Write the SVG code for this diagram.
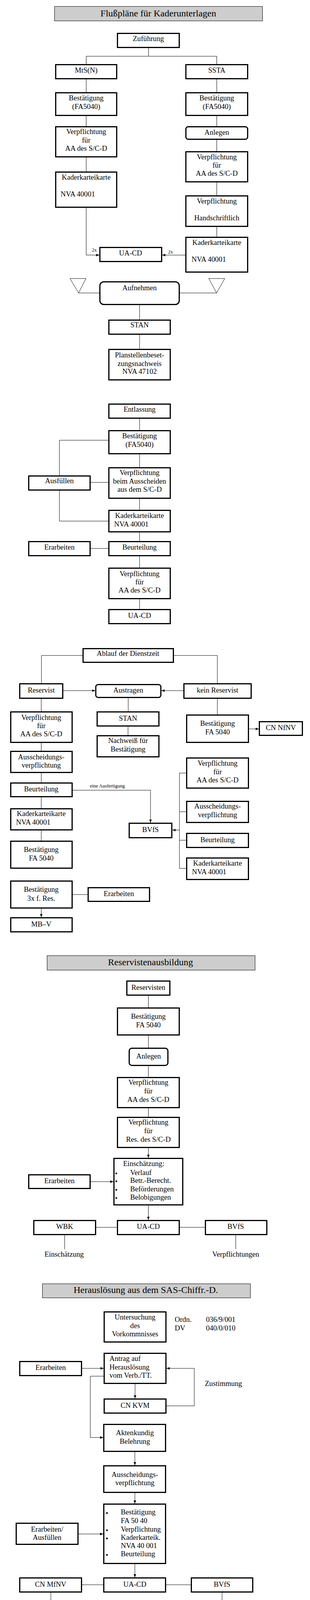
<svg xmlns="http://www.w3.org/2000/svg" width="793" height="5140" viewBox="0 0 793 5140">
<style>
.b{fill:#fff;stroke:#000;stroke-width:3}
.t{fill:#cdcdcd;stroke:#000;stroke-width:1}
.c{fill:none;stroke:#000;stroke-width:1}
.a{fill:none;stroke:#000;stroke-width:1;marker-end:url(#ah)}
text{font-family:"Liberation Serif","Times New Roman",serif;font-size:18.6px;fill:#000}
.m{text-anchor:middle}
.h{font-size:24px}
.s{font-size:12.5px}
.sup{font-size:11px}
.d{fill:#000}
</style>
<defs>
<marker id="ah" viewBox="0 0 10 8" refX="10" refY="4" markerWidth="8" markerHeight="7" markerUnits="userSpaceOnUse" orient="auto"><path d="M0,0L10,4L0,8z" fill="#000"/></marker>
</defs>
<rect width="793" height="5140" fill="#fff"/>

<g id="connectors">
<path class="c" d="M380,123V144M220.5,144H554.5M220.5,144V164M554.5,144V164M220.5,203V236M220.5,297V323M220.5,403V439M554.5,203V236M554.5,297V323M554.5,358V387M554.5,467V500M554.5,581V606"/>
<path class="a" d="M220.5,532V653H254"/>
<path class="a" d="M474,653H415"/>
<polygon class="c" points="179,713 220,713 201,750"/>
<polygon class="c" points="534,713 575,713 554,750"/>
<path class="c" d="M201,750H254M460,750H554M357,781V818M357,857V893M357,1072V1101M357,1163V1196M357,1277V1305M357,1363V1385M357,1424V1453M357,1534V1559M277,1127H152V1217M232,1235H277M152,1256V1334H277M232,1404H277"/>
<path class="c" d="M211,1678H106V1749M445,1678H556V1749M328,1787V1821M327.5,1860V1882M105.5,1789V1821M105.5,1902V1922M105.5,1979V2003M105.5,2041V2069M105.5,2126V2152M186,2290H224M556,1789V1829M476,1979H459V2223H476M459,2078H476M459,2151H476"/>
<path class="a" d="M162,1768H243.5"/>
<path class="a" d="M469,1768H413"/>
<path class="a" d="M105.5,2326V2348"/>
<path class="a" d="M186,2023H385V2106"/>
<path class="a" d="M637,1866H662"/>
<path class="a" d="M459,2125H441"/>
<path class="c" d="M379.5,2549V2579M379.5,2651V2682M379.5,2729V2757M379.5,2837V2859M246,3142H299M460,3142H524M165.5,3162V3198M603,3162V3198"/>
<path class="a" d="M379.5,2939V2964"/>
<path class="a" d="M232,3025H290"/>
<path class="a" d="M379.5,3086V3123"/>
<path class="a" d="M210,3503H265"/>
<path class="a" d="M265,3523H231V3680H264"/>
<path class="a" d="M345.5,3543V3580"/>
<path class="a" d="M426,3599H497V3503H426"/>
<path class="a" d="M345,3717V3751"/>
<path class="a" d="M345,3822V3849"/>
<path class="a" d="M201,3927H264"/>
<path class="a" d="M345,4004V4038"/>
<path class="c" d="M210,4057H264M425,4057H488M130,4077V4113M568,4077V4098"/>
<path class="c" d="M172.5,4420V4442M172.5,4505V4529M172.5,4613V4639M172.5,4702V4722M172.5,4785V4804M172.5,4867V4896M366,4420V4442M366,4505V4529M366,4613V4639M366,4702V4722M366,4785V4804M554,4420V4442M554,4505V4529M554,4613V4639M554,4702V4722M554,4785V4804"/>
<path class="a" d="M172.5,4959V5031H225"/>
<path class="a" d="M366,4867V5031H333.5"/>
</g>

<g id="labels">
<text class="s" x="235" y="644">2x</text>
<text class="s" x="430" y="649">2x</text>
<text class="s" x="230" y="2016">eine Ausfertigung</text>
</g>

<!-- Section 1 -->
<g id="title1"><rect class="t" x="139.5" y="16.5" width="532" height="37"/><text class="m h" x="405" y="41.5">Flußpläne für Kaderunterlagen</text></g>
<g id="n_zufuehrung"><rect class="b" x="300.5" y="85.5" width="158" height="36"/><text class="m" x="379.5" y="105">Zuführung</text></g>
<g id="n_mtsn"><rect class="b" x="142.5" y="165.5" width="156" height="36"/><text class="m" x="220.5" y="185.5">MtS(N)</text></g>
<g id="n_ssta"><rect class="b" x="475.5" y="165.5" width="158" height="36"/><text class="m" x="554.5" y="185.5">SSTA</text></g>
<g id="n_best_l"><rect class="b" x="142.5" y="237.5" width="156" height="58"/><text class="m" x="220.5" y="257">Bestätigung</text><text class="m" x="220.5" y="279">(FA5040)</text></g>
<g id="n_best_r"><rect class="b" x="475.5" y="237.5" width="158" height="58"/><text class="m" x="554.5" y="257">Bestätigung</text><text class="m" x="554.5" y="279">(FA5040)</text></g>
<g id="n_verpf_l"><rect class="b" x="142.5" y="324.5" width="156" height="77"/><text class="m" x="220.5" y="343">Verpflichtung</text><text class="m" x="220.5" y="365">für</text><text class="m" x="220.5" y="386">AA des S/C-D</text></g>
<g id="n_anlegen_r"><rect class="b" x="475.5" y="324.5" width="158" height="32" rx="6"/><text class="m" x="554.5" y="345">Anlegen</text></g>
<g id="n_verpf_r"><rect class="b" x="475.5" y="388.5" width="158" height="77"/><text class="m" x="554.5" y="408">Verpflichtung</text><text class="m" x="554.5" y="429">für</text><text class="m" x="554.5" y="450">AA des S/C-D</text></g>
<g id="n_kk_l"><rect class="b" x="142.5" y="440.5" width="156" height="90"/><text class="m" x="220.5" y="460">Kaderkarteikarte</text><text x="155" y="503">NVA 40001</text></g>
<g id="n_verpf_hand"><rect class="b" x="475.5" y="501.5" width="158" height="78"/><text class="m" x="554.5" y="521">Verpflichtung</text><text class="m" x="554.5" y="564">Handschriftlich</text></g>
<g id="n_kk_r"><rect class="b" x="475.5" y="607.5" width="158" height="89"/><text class="m" x="554.5" y="627">Kaderkarteikarte</text><text x="490" y="670">NVA 40001</text></g>
<g id="n_uacd1"><rect class="b" x="255.5" y="633.5" width="158" height="36"/><text class="m" x="334" y="653.5">UA-CD</text></g>
<g id="n_aufnehmen"><rect class="b" x="255.5" y="721.5" width="203" height="58" rx="10"/><text class="m" x="357" y="743">Aufnehmen</text></g>
<g id="n_stan1"><rect class="b" x="278.5" y="819.5" width="157" height="36"/><text class="m" x="357" y="838">STAN</text></g>
<g id="n_planst"><rect class="b" x="278.5" y="894.5" width="157" height="78"/><text class="m" x="357" y="915">Planstellenbeset-</text><text class="m" x="357" y="937">zungsnachweis</text><text class="m" x="357" y="957">NVA 47102</text></g>
<g id="n_entlassung"><rect class="b" x="278.5" y="1034.5" width="157" height="36"/><text class="m" x="357" y="1054">Entlassung</text></g>
<g id="n_best_e"><rect class="b" x="278.5" y="1102.5" width="157" height="59"/><text class="m" x="357" y="1122">Bestätigung</text><text class="m" x="357" y="1144">(FA5040)</text></g>
<g id="n_verpf_aus"><rect class="b" x="278.5" y="1197.5" width="157" height="78"/><text class="m" x="357" y="1216">Verpflichtung</text><text class="m" x="357" y="1238">beim Ausscheiden</text><text class="m" x="357" y="1259">aus dem S/C-D</text></g>
<g id="n_ausfuellen"><rect class="b" x="73.5" y="1218.5" width="157" height="36"/><text class="m" x="152" y="1237">Ausfüllen</text></g>
<g id="n_kk_e"><rect class="b" x="278.5" y="1306.5" width="157" height="55"/><text class="m" x="357" y="1326">Kaderkarteikarte</text><text x="292" y="1348">NVA 40001</text></g>
<g id="n_beurt_e"><rect class="b" x="278.5" y="1386.5" width="157" height="36"/><text class="m" x="357" y="1407">Beurteilung</text></g>
<g id="n_erarb_e"><rect class="b" x="73.5" y="1386.5" width="157" height="36"/><text class="m" x="152" y="1407">Erarbeiten</text></g>
<g id="n_verpf_e"><rect class="b" x="278.5" y="1454.5" width="157" height="78"/><text class="m" x="357" y="1475">Verpflichtung</text><text class="m" x="357" y="1496">für</text><text class="m" x="357" y="1517">AA des S/C-D</text></g>
<g id="n_uacd2"><rect class="b" x="278.5" y="1560.5" width="157" height="36"/><text class="m" x="357" y="1582">UA-CD</text></g>

<!-- Section 2 -->
<g id="n_ablauf"><rect class="b" x="212.5" y="1660.5" width="231" height="35"/><text class="m" x="327.5" y="1679">Ablauf der Dienstzeit</text></g>
<g id="n_reservist"><rect class="b" x="50.5" y="1750.5" width="110" height="37"/><text class="m" x="105.5" y="1773">Reservist</text></g>
<g id="n_austragen"><rect class="b" x="245" y="1752.5" width="166.5" height="33" rx="6"/><text class="m" x="328" y="1773">Austragen</text></g>
<g id="n_keinres"><rect class="b" x="470.5" y="1750.5" width="172" height="37"/><text class="m" x="556.5" y="1773">kein Reservist</text></g>
<g id="n_stan2"><rect class="b" x="248.5" y="1822.5" width="158" height="36"/><text class="m" x="327.5" y="1845">STAN</text></g>
<g id="n_nachweis"><rect class="b" x="248.5" y="1883.5" width="158" height="54"/><text class="m" x="327.5" y="1902">Nachweiß für</text><text class="m" x="327.5" y="1924">Bestätigung</text></g>
<g id="n_verpf_l2"><rect class="b" x="27.5" y="1822.5" width="157" height="78"/><text class="m" x="105.5" y="1843">Verpflichtung</text><text class="m" x="105.5" y="1864">für</text><text class="m" x="105.5" y="1885">AA des S/C-D</text></g>
<g id="n_aussch_l"><rect class="b" x="27.5" y="1923.5" width="157" height="54"/><text class="m" x="105.5" y="1944">Ausscheidungs-</text><text class="m" x="105.5" y="1965">verpflichtung</text></g>
<g id="n_beurt_l"><rect class="b" x="27.5" y="2004.5" width="157" height="35"/><text class="m" x="105.5" y="2026">Beurteilung</text></g>
<g id="n_kk_l2"><rect class="b" x="27.5" y="2070.5" width="157" height="54"/><text class="m" x="105.5" y="2089">Kaderkarteikarte</text><text x="41" y="2111">NVA 40001</text></g>
<g id="n_best_l2"><rect class="b" x="27.5" y="2153.5" width="157" height="69"/><text class="m" x="105.5" y="2181">Bestätigung</text><text class="m" x="105.5" y="2203">FA 5040</text></g>
<g id="n_best_3x"><rect class="b" x="27.5" y="2255.5" width="157" height="69"/><text class="m" x="105.5" y="2283">Bestätigung</text><text class="m" x="105.5" y="2306">3x f. Res.</text></g>
<g id="n_erarb2"><rect class="b" x="225.5" y="2272.5" width="157" height="35"/><text class="m" x="304" y="2294">Erarbeiten</text></g>
<g id="n_mbv"><rect class="b" x="27.5" y="2349.5" width="157" height="36"/><text class="m" x="105.5" y="2372">MB–V</text></g>
<g id="n_bvfs1"><rect class="b" x="330.5" y="2107.5" width="109" height="37"/><text class="m" x="385" y="2130">BVfS</text></g>
<g id="n_best_r2"><rect class="b" x="477.5" y="1830.5" width="158" height="70"/><text class="m" x="556.5" y="1858">Bestätigung</text><text class="m" x="556.5" y="1880">FA 5040</text></g>
<g id="n_cnnfnv"><rect class="b" x="663.5" y="1847.5" width="110" height="35"/><text class="m" x="718.5" y="1869">CN NfNV</text></g>
<g id="n_verpf_r2"><rect class="b" x="477.5" y="1940.5" width="158" height="77"/><text class="m" x="556.5" y="1960">Verpflichtung</text><text class="m" x="556.5" y="1982">für</text><text class="m" x="556.5" y="2003">AA des S/C-D</text></g>
<g id="n_aussch_r"><rect class="b" x="477.5" y="2051.5" width="158" height="54"/><text class="m" x="556.5" y="2070">Ausscheidungs-</text><text class="m" x="556.5" y="2092">verpflichtung</text></g>
<g id="n_beurt_r"><rect class="b" x="477.5" y="2133.5" width="158" height="36"/><text class="m" x="556.5" y="2156">Beurteilung</text></g>
<g id="n_kk_r2"><rect class="b" x="477.5" y="2196.5" width="158" height="55"/><text class="m" x="556.5" y="2216">Kaderkarteikarte</text><text x="491" y="2238">NVA 40001</text></g>

<!-- Section 3 -->
<g id="title2"><rect class="t" x="120.5" y="2446.5" width="532" height="37"/><text class="m h" x="385" y="2470.5">Reservistenausbildung</text></g>
<g id="n_reservisten"><rect class="b" x="324.5" y="2511.5" width="110" height="36"/><text class="m" x="379.5" y="2534">Reservisten</text></g>
<g id="n_best3"><rect class="b" x="300.5" y="2580.5" width="158" height="69"/><text class="m" x="379.5" y="2608">Bestätigung</text><text class="m" x="379.5" y="2630">FA 5040</text></g>
<g id="n_anlegen3"><rect class="b" x="330.5" y="2683.5" width="99" height="44" rx="7"/><text class="m" x="380" y="2710">Anlegen</text></g>
<g id="n_verpf3a"><rect class="b" x="300.5" y="2758.5" width="158" height="77"/><text class="m" x="379.5" y="2777">Verpflichtung</text><text class="m" x="379.5" y="2799">für</text><text class="m" x="379.5" y="2821">AA des S/C-D</text></g>
<g id="n_verpf3b"><rect class="b" x="300.5" y="2860.5" width="158" height="77"/><text class="m" x="379.5" y="2879">Verpflichtung</text><text class="m" x="379.5" y="2901">für</text><text class="m" x="379.5" y="2923">Res. des S/C-D</text></g>
<g id="n_einsch"><rect class="b" x="291.5" y="2965.5" width="176" height="119"/><text x="315" y="2985">Einschätzung:</text>
<circle class="d" cx="297.5" cy="3004" r="2.3"/><text x="333" y="3008">Verlauf</text>
<circle class="d" cx="297.5" cy="3024" r="2.3"/><text x="333" y="3028">Betr.-Berecht.</text>
<circle class="d" cx="297.5" cy="3046" r="2.3"/><text x="333" y="3050">Beförderungen</text>
<circle class="d" cx="297.5" cy="3067" r="2.3"/><text x="333" y="3071">Belobigungen</text></g>
<g id="n_erarb3"><rect class="b" x="73.5" y="3007.5" width="157" height="35"/><text class="m" x="152" y="3029">Erarbeiten</text></g>
<g id="n_wbk"><rect class="b" x="86.5" y="3124.5" width="158" height="36"/><text class="m" x="165.5" y="3146">WBK</text></g>
<g id="n_uacd3"><rect class="b" x="300.5" y="3124.5" width="158" height="36"/><text class="m" x="379.5" y="3146">UA-CD</text></g>
<g id="n_bvfs3"><rect class="b" x="525.5" y="3124.5" width="157" height="36"/><text class="m" x="603" y="3146">BVfS</text></g>
<g id="l_einsch"><text class="m" x="164" y="3217">Einschätzung</text></g>
<g id="l_verpfl"><text class="m" x="603" y="3217">Verpflichtungen</text></g>

<!-- Section 4 -->
<g id="title3"><rect class="t" x="108.5" y="3286.5" width="532" height="36"/><text class="m h" x="373" y="3309.5">Herauslösung aus dem SAS-Chiffr.-D.</text></g>
<g id="n_unters"><rect class="b" x="266.5" y="3358.5" width="158" height="77"/><text class="m" x="345.5" y="3378">Untersuchung</text><text class="m" x="345.5" y="3400">des</text><text class="m" x="345.5" y="3421">Vorkommnisses</text></g>
<g id="l_ordn"><text x="447" y="3384">Ordn.</text><text x="527" y="3384">036/9/001</text><text x="447" y="3406">DV</text><text x="527" y="3406">040/0/010</text></g>
<g id="n_antrag"><rect class="b" x="266.5" y="3464.5" width="158" height="77"/><text x="280" y="3484">Antrag auf</text><text x="280" y="3506">Herauslösung</text><text x="280" y="3527">vom Verb./TT.</text></g>
<g id="n_erarb4"><rect class="b" x="50.5" y="3485.5" width="158" height="36"/><text class="m" x="129.5" y="3507">Erarbeiten</text></g>
<g id="n_cnkvm"><rect class="b" x="266.5" y="3581.5" width="158" height="36"/><text class="m" x="345.5" y="3604">CN KVM</text></g>
<g id="l_zust"><text x="524" y="3548">Zustimmung</text></g>
<g id="n_akten"><rect class="b" x="265.5" y="3646.5" width="158" height="69"/><text class="m" x="345" y="3674">Aktenkundig</text><text class="m" x="345" y="3696">Belehrung</text></g>
<g id="n_aussch4"><rect class="b" x="265.5" y="3752.5" width="158" height="68"/><text class="m" x="345" y="3781">Ausscheidungs-</text><text class="m" x="345" y="3802">verpflichtung</text></g>
<g id="n_list4"><rect class="b" x="265.5" y="3850.5" width="158" height="152"/>
<circle class="d" cx="273.5" cy="3873.5" r="2.3"/><text x="309" y="3877">Bestätigung</text>
<text x="309" y="3899">FA 50 40</text>
<circle class="d" cx="273.5" cy="3917.5" r="2.3"/><text x="309" y="3921">Verpflichtung</text>
<circle class="d" cx="273.5" cy="3938.5" r="2.3"/><text x="309" y="3942">Kaderkarteik.</text>
<text x="309" y="3963">NVA 40 001</text>
<circle class="d" cx="273.5" cy="3980.5" r="2.3"/><text x="309" y="3984">Beurteilung</text></g>
<g id="n_erarbaus"><rect class="b" x="41.5" y="3899.5" width="158" height="54"/><text class="m" x="120.5" y="3921">Erarbeiten/</text><text class="m" x="120.5" y="3942">Ausfüllen</text></g>
<g id="n_cnmfnv"><rect class="b" x="50.5" y="4039.5" width="158" height="36"/><text class="m" x="129.5" y="4062">CN MfNV</text></g>
<g id="n_uacd4"><rect class="b" x="265.5" y="4039.5" width="158" height="36"/><text class="m" x="345" y="4062">UA-CD</text></g>
<g id="n_bvfs4"><rect class="b" x="489.5" y="4039.5" width="157" height="36"/><text class="m" x="568" y="4062">BVfS</text></g>
<g id="l_best4"><text class="m" x="129" y="4132">Bestätigung</text></g>
<g id="l_bvfslist">
<circle class="d" cx="478" cy="4114.5" r="2.3"/><text x="513" y="4118">Ausscheidungs-</text>
<text x="513" y="4138">verpflichtung</text>
<circle class="d" cx="478" cy="4156.5" r="2.3"/><text x="513" y="4160">Verpflichtung</text>
<circle class="d" cx="478" cy="4178.5" r="2.3"/><text x="513" y="4182">Beurteilung</text>
<circle class="d" cx="478" cy="4199.5" r="2.3"/><text x="513" y="4203">Kaderkarteikarte</text></g>

<!-- Section 5 -->
<g id="title4"><rect class="t" x="100.5" y="4262.5" width="531" height="35"/><text class="m h" x="365" y="4286.5">Bestätigungsverfahren</text></g>
<g id="n_r1c1"><rect class="b" x="93.5" y="4358.5" width="158" height="60"/><text class="m" x="172.5" y="4382">Bestätigung</text><text class="m" x="172.5" y="4403">Sufe I bis III</text></g>
<g id="n_r1c2"><rect class="b" x="287.5" y="4358.5" width="157" height="60"/><text class="m" x="366" y="4382">Bestätigung</text><text class="m" x="366" y="4403">Sufe IV</text></g>
<g id="n_r1c3"><rect class="b" x="474.5" y="4358.5" width="159" height="60"/><text class="m" x="554" y="4382">Verpflichtung</text><text class="m" x="554" y="4403">lt. Nomenklatur</text></g>
<g id="n_r2c1"><rect class="b" x="93.5" y="4443.5" width="158" height="60"/><text class="m" x="172.5" y="4467">Personalbogen</text><text class="m" x="172.5" y="4488">NVA 02 120</text></g>
<g id="n_r2c2"><rect class="b" x="287.5" y="4443.5" width="157" height="60"/><text class="m" x="366" y="4467">Personalbogen</text><text class="m" x="366" y="4488">NVA 02 120</text></g>
<g id="n_r2c3"><rect class="b" x="474.5" y="4443.5" width="159" height="60"/><text class="m" x="554" y="4467">Personalbogen</text><text class="m" x="554" y="4488">NVA 02 120</text></g>
<g id="n_r3c1"><rect class="b" x="93.5" y="4530.5" width="158" height="81"/><text class="m" x="172.5" y="4553">Verwandten-</text><text class="m" x="172.5" y="4575">aufstellung</text><text class="m" x="172.5" y="4596">FA 4053</text></g>
<g id="n_r3c2"><rect class="b" x="287.5" y="4530.5" width="157" height="81"/><text class="m" x="366" y="4553">Verwandten-</text><text class="m" x="366" y="4575">aufstellung</text><text class="m" x="366" y="4596">FA 4053</text></g>
<g id="n_r3c3"><rect class="b" x="474.5" y="4530.5" width="159" height="81"/><text class="m" x="554" y="4553">Verwandten-</text><text class="m" x="554" y="4575">aufstellung</text><text class="m" x="554" y="4596">FA 4053</text></g>
<g id="n_r4c1"><rect class="b" x="93.5" y="4640.5" width="158" height="60"/><text class="m" x="172.5" y="4664">Lebenslauf</text><text class="m" x="172.5" y="4685">ausführlich</text></g>
<g id="n_r4c2"><rect class="b" x="287.5" y="4640.5" width="157" height="60"/><text class="m" x="366" y="4674">Lebenslauf</text></g>
<g id="n_r4c3"><rect class="b" x="474.5" y="4640.5" width="159" height="60"/><text class="m" x="554" y="4664">Lebenslauf</text><text class="m" x="554" y="4685">ausführlich</text></g>
<g id="n_r5c1"><rect class="b" x="93.5" y="4723.5" width="158" height="60"/><text class="m" x="172.5" y="4747">Beurteilung</text><text class="m" x="172.5" y="4768">polit., fachl.</text></g>
<g id="n_r5c2"><rect class="b" x="287.5" y="4723.5" width="157" height="60"/><text class="m" x="366" y="4747">Beurteilung</text><text class="m" x="366" y="4768">polit., fachl.</text></g>
<g id="n_r5c3"><rect class="b" x="474.5" y="4723.5" width="159" height="60"/><text class="m" x="554" y="4747">Beurteilung</text><text class="m" x="554" y="4768">polit., fachl.</text></g>
<g id="n_r6c1"><rect class="b" x="93.5" y="4805.5" width="158" height="60"/><text class="m" x="172.5" y="4840">Erklärung <tspan class="sup" dy="-8">1)</tspan></text></g>
<g id="n_r6c2"><rect class="b" x="287.5" y="4805.5" width="157" height="60"/><text class="m" x="366" y="4840">Erklärung <tspan class="sup" dy="-8">1)</tspan></text></g>
<g id="n_r6c3"><rect class="b" x="474.5" y="4805.5" width="159" height="60"/><text class="m" x="554" y="4840">Erklärung <tspan class="sup" dy="-8">1)</tspan></text></g>
<g id="n_pass"><rect class="b" x="93.5" y="4897.5" width="158" height="60"/><text class="m" x="172.5" y="4932">2 Paßbilder</text></g>
<g id="n_aussprache"><rect class="b" x="226.5" y="4980.5" width="105.5" height="100"/><text class="m" x="279" y="5003">Aussprache</text><text class="m" x="279" y="5023">Ergebnis</text><text class="m" x="279" y="5045">protokol-</text><text class="m" x="279" y="5066">ieren</text></g>
<g id="footnote">
<text x="400" y="4915">1) <tspan text-decoration="underline">Wortlaut der Erklärung</tspan></text>
<text x="400" y="4937">Hiermit erkläre ich, daß keine Verbindungen,</text>
<text x="400" y="4958">weder persönliche noch briefliche, auch nicht</text>
<text x="400" y="4980">über dritte Personen, mit Verwandten oder</text>
<text x="400" y="5001">Personen in nichtsozialistischen Staaten</text>
<text x="400" y="5023">oder Berlin (West) bestehen.</text>
<text x="400" y="5066">O.U., den</text>
<text x="587" y="5066">Unterschrift</text>
<text x="590" y="5087">Name</text>
</g>
</svg>
